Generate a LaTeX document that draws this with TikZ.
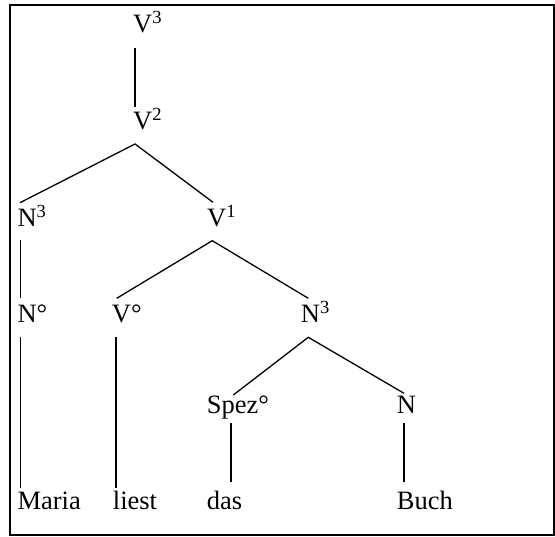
\documentclass[tikz,border=0pt]{standalone}
\usepackage{fontspec}
\setmainfont{Liberation Serif}
\begin{document}
\begin{tikzpicture}[x=1pt,y=-1pt,
  lbl/.style={anchor=base west,inner sep=0pt,font=\fontsize{26.5pt}{30pt}\selectfont},
  edge/.style={line width=1.3pt},
  frame/.style={line width=2pt}]
\useasboundingbox (0,0) rectangle (555,537);
\draw[frame] (10,5) rectangle (554,535);
% labels
\node[lbl] (v3) at (133,33) {V\textsuperscript{3}};
\node[lbl] (v2) at (133,130) {V\textsuperscript{2}};
\node[lbl] (n3a) at (17.3,226.7) {N\textsuperscript{3}};
\node[lbl] (v1) at (207,226.7) {V\textsuperscript{1}};
\node[lbl] (n0) at (17.3,322.7) {N°};
\node[lbl] (v0) at (111.7,322.7) {V°};
\node[lbl] (n3b) at (300.7,322.7) {N\textsuperscript{3}};
\node[lbl] (spez) at (206.7,413.5) {Spez°};
\node[lbl] (n) at (396.7,413.5) {N};
\node[lbl] (maria) at (17.3,510) {Maria};
\node[lbl] (liest) at (112.7,510) {liest};
\node[lbl] (das) at (206.7,509.5) {das};
\node[lbl] (buch) at (396.7,509.5) {Buch};
% connector ends
\coordinate (v3b) at (135,48);
\coordinate (v2t) at (135,107);
\coordinate (v2b) at (135,144);
\coordinate (n3at) at (20,202.7);
\coordinate (v1t) at (213,202.3);
\coordinate (n3ab) at (20.7,240);
\coordinate (n0t) at (20.7,298);
\coordinate (v1b) at (212.3,240.7);
\coordinate (v0t) at (116.7,298.3);
\coordinate (n3bt) at (308.3,298.3);
\coordinate (n0b) at (20.7,336.7);
\coordinate (mariat) at (20.7,488);
\coordinate (v0b) at (116,336.7);
\coordinate (liestt) at (116,488);
\coordinate (n3bb) at (308.3,337.3);
\coordinate (spezt) at (233.3,395);
\coordinate (nt) at (404,393.3);
\coordinate (spezb) at (231,423.3);
\coordinate (dast) at (231,481.7);
\coordinate (nb) at (404,423.3);
\coordinate (bucht) at (404,481.7);
% connectors
\draw[edge] (v3b) -- (v2t);
\draw[edge] (n3at) -- (v2b) -- (v1t);
\draw[edge] (n3ab) -- (n0t);
\draw[edge] (v0t) -- (v1b) -- (n3bt);
\draw[edge] (n0b) -- (mariat);
\draw[edge] (v0b) -- (liestt);
\draw[edge] (spezt) -- (n3bb) -- (nt);
\draw[edge] (spezb) -- (dast);
\draw[edge] (nb) -- (bucht);
\end{tikzpicture}
\end{document}
